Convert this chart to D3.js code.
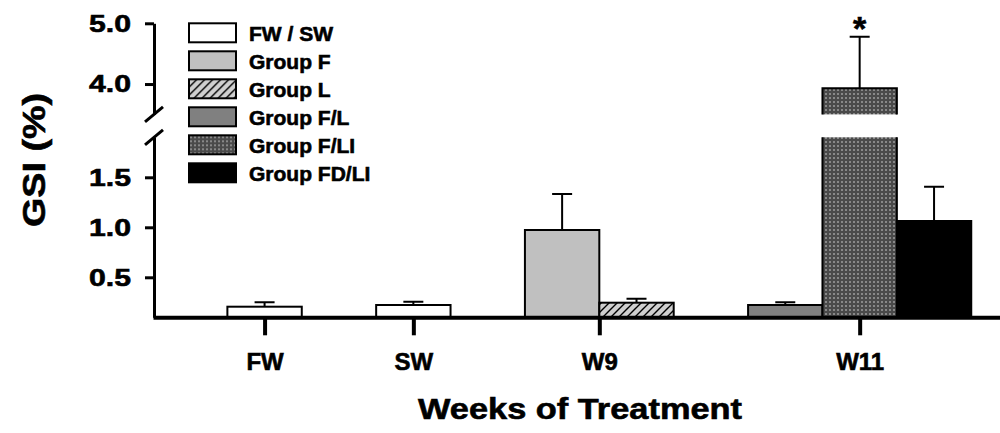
<!DOCTYPE html>
<html>
<head>
<meta charset="utf-8">
<script src="https://cdn.jsdelivr.net/npm/d3@7"></script>
<style>
  body { margin: 0; background: #fff; }
  text { font-family: "Liberation Sans", Arial, Helvetica, sans-serif; font-weight: bold; fill: #000; }
  .heavy { stroke: #000; stroke-width: 0.6px; }
</style>
</head>
<body>
<svg id="chart" width="1000" height="433"></svg>
<script>
// ---- data -------------------------------------------------------------
const weeks = ["FW", "SW", "W9", "W11"];
const groups = ["FW / SW", "Group F", "Group L", "Group F/L", "Group F/LI", "Group FD/LI"];

// one entry per bar
const barWeek  = ["FW", "SW", "W9", "W9", "W11", "W11", "W11"];
const barGroup = ["FW / SW", "FW / SW", "Group F", "Group L", "Group F/L", "Group F/LI", "Group FD/LI"];
const barMean  = [0.206, 0.223, 0.973, 0.246, 0.223, 3.93, 1.063];
const barSem   = [0.044, 0.033, 0.360, 0.040, 0.027, 0.85, 0.343];
const barMark  = ["", "", "", "", "", "*", ""];

const lowerTicks = [0.5, 1.0, 1.5];
const upperTicks = [4.0, 5.0];
const lowerDomain = [0.1, 1.9];
const upperDomain = [3.5, 5.0];

// ---- setup -------------------------------------------------------------
const svg = d3.select("#chart");
const axisX0 = 154;

// fills
const defs = svg.append("defs");
const hatch = defs.append("pattern").attr("id", "hatch")
  .attr("patternUnits", "userSpaceOnUse").attr("width", 8).attr("height", 8);
hatch.append("rect").attr("width", 8).attr("height", 8).attr("fill", "#cfcfcf");
hatch.append("path").attr("d", "M0,8L8,0M-2,2L2,-2M6,10L10,6")
  .attr("stroke", "#000").attr("stroke-width", 1.4);

const dots = defs.append("pattern").attr("id", "dots")
  .attr("patternUnits", "userSpaceOnUse").attr("width", 4).attr("height", 4);
dots.append("rect").attr("width", 4).attr("height", 4).attr("fill", "#4a4a4a");
dots.append("rect").attr("x", 1).attr("y", 1).attr("width", 2).attr("height", 2).attr("fill", "#888888");

const fill = d3.scaleOrdinal()
  .domain(groups)
  .range(["#ffffff", "#c0c0c0", "url(#hatch)", "#808080", "url(#dots)", "#000000"]);

// slot layout: one empty slot before each week, then that week's bars
const barSlot = [];
const weekCenter = {};
let slot = 0;
weeks.forEach(w => {
  slot += 1;
  const first = slot;
  barWeek.forEach((bw, i) => { if (bw === w) { barSlot[i] = slot; slot += 1; } });
  weekCenter[w] = (first + slot) / 2;
});

const x = d3.scaleLinear().domain([0, slot + 0.4]).range([153, 1001]);

const yLow = d3.scaleLinear().domain(lowerDomain).range([317.3, 137.3]);
const yUp  = d3.scaleLinear().domain(upperDomain).range([114.4, 23.3]);
const yAny = v => (v <= lowerDomain[1] ? yLow(v) : yUp(v));

const bars = barMean.map((m, i) => ({
  mean: m, sem: barSem[i], group: barGroup[i], slot: barSlot[i], mark: barMark[i]
}));

// ---- bars --------------------------------------------------------------
const gBars = svg.append("g");
bars.forEach(d => {
  const x0 = x(d.slot), x1 = x(d.slot + 1);
  const g = gBars.append("g");
  if (d.mean <= lowerDomain[1]) {
    g.append("rect")
      .attr("x", x0).attr("y", yLow(d.mean))
      .attr("width", x1 - x0).attr("height", yLow(lowerDomain[0]) - yLow(d.mean))
      .attr("fill", fill(d.group)).attr("stroke", "#000").attr("stroke-width", 2);
  } else {
    // bar crossing the axis break: lower and upper pieces
    const yb = yLow(lowerDomain[0]), yt1 = yLow(lowerDomain[1]);
    const yb2 = yUp(upperDomain[0]), yt = yUp(d.mean);
    g.append("rect").attr("x", x0).attr("y", yt1).attr("width", x1 - x0)
      .attr("height", yb - yt1).attr("fill", fill(d.group));
    g.append("rect").attr("x", x0).attr("y", yt).attr("width", x1 - x0)
      .attr("height", yb2 - yt).attr("fill", fill(d.group));
    g.append("path")
      .attr("d", `M${x0},${yb}V${yt1}M${x1},${yb}V${yt1}M${x0},${yb2}V${yt}H${x1}V${yb2}`)
      .attr("fill", "none").attr("stroke", "#000").attr("stroke-width", 2);
  }
  // upward error bar
  const cx = (x0 + x1) / 2, yTop = yAny(d.mean + d.sem);
  g.append("path")
    .attr("d", `M${cx},${yAny(d.mean)}V${yTop}M${cx - 10},${yTop}H${cx + 10}`)
    .attr("fill", "none").attr("stroke", "#000").attr("stroke-width", 2);
  if (d.mark) {
    g.append("text").attr("class", "heavy").attr("x", cx).attr("y", yTop + 3)
      .attr("text-anchor", "middle").attr("font-size", 34).text(d.mark);
  }
});

// ---- axes --------------------------------------------------------------
function styleY(g) {
  g.select(".domain").attr("stroke-width", 3);
  g.selectAll(".tick line").attr("stroke-width", 3);
  g.selectAll(".tick text")
    .attr("class", "heavy")
    .attr("font-size", 24.5).attr("font-family", null)
    .attr("textLength", 42).attr("lengthAdjust", "spacingAndGlyphs");
}
svg.append("g").attr("transform", `translate(${axisX0},0)`)
  .call(d3.axisLeft(yLow).tickValues(lowerTicks).tickSize(9).tickSizeOuter(0)
    .tickPadding(14).tickFormat(d3.format(".1f")))
  .call(styleY);
svg.append("g").attr("transform", `translate(${axisX0},0)`)
  .call(d3.axisLeft(yUp).tickValues(upperTicks).tickSize(9).tickSizeOuter(0)
    .tickPadding(14).tickFormat(d3.format(".1f")))
  .call(styleY);

// break marks on the value axis
[yUp(upperDomain[0]), yLow(lowerDomain[1])].forEach(yy => {
  svg.append("line")
    .attr("x1", axisX0 - 9).attr("y1", yy + 7.5)
    .attr("x2", axisX0 + 9).attr("y2", yy - 7.5)
    .attr("stroke", "#000").attr("stroke-width", 3);
});

const gx = svg.append("g").attr("transform", `translate(0,${yLow(lowerDomain[0])})`)
  .call(d3.axisBottom(x)
    .tickValues(weeks.map(w => weekCenter[w]))
    .tickFormat((v, i) => weeks[i])
    .tickSize(18).tickSizeOuter(0).tickPadding(18));
gx.select(".domain").attr("stroke-width", 4);
gx.selectAll(".tick line").attr("stroke-width", 4);
gx.selectAll(".tick text").attr("class", "heavy").attr("font-size", 24).attr("font-family", null);

// ---- titles ------------------------------------------------------------
svg.append("text")
  .attr("class", "heavy")
  .attr("transform", "translate(45,160) rotate(-90)")
  .attr("text-anchor", "middle").attr("font-size", 31)
  .attr("textLength", 134).attr("lengthAdjust", "spacingAndGlyphs")
  .text("GSI (%)");

svg.append("text")
  .attr("class", "heavy")
  .attr("x", 580).attr("y", 419)
  .attr("text-anchor", "middle").attr("font-size", 30)
  .attr("textLength", 324).attr("lengthAdjust", "spacingAndGlyphs")
  .text("Weeks of Treatment");

// ---- legend ------------------------------------------------------------
const legend = svg.append("g").selectAll("g").data(groups).join("g")
  .attr("transform", (d, i) => `translate(189,${23.3 + 28 * i})`);
legend.append("rect")
  .attr("width", 47).attr("height", 19)
  .attr("fill", d => fill(d)).attr("stroke", "#000").attr("stroke-width", 2);
legend.append("text")
  .attr("class", "heavy")
  .attr("x", 60).attr("y", 17.5).attr("font-size", 21)
  .text(d => d);
</script>
</body>
</html>
